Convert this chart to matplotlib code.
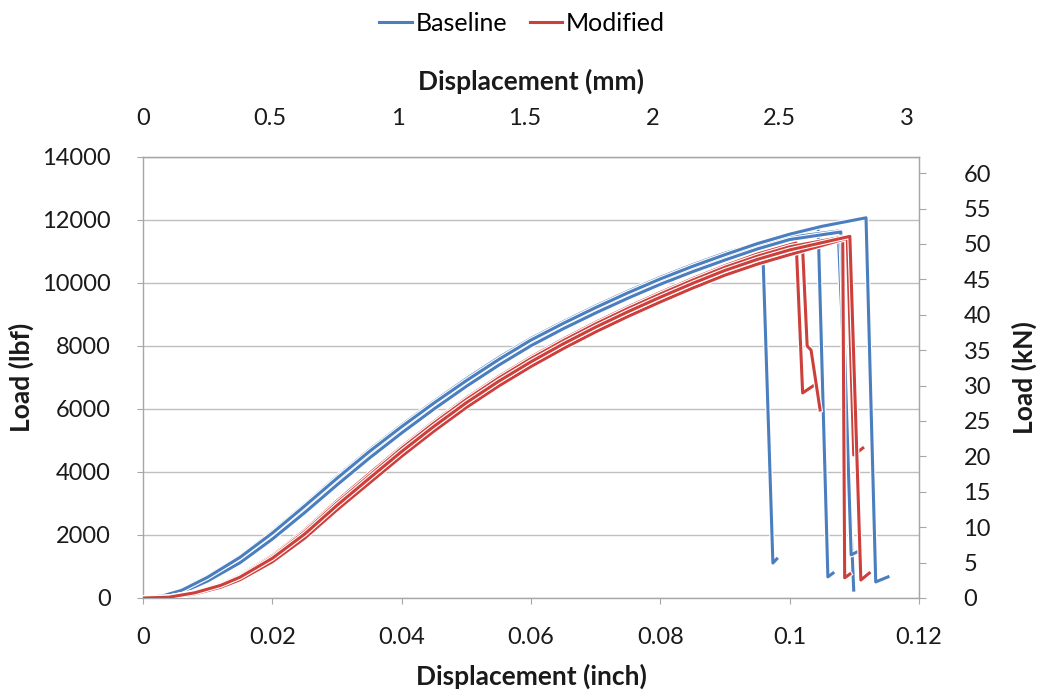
import matplotlib
matplotlib.use("Agg")
import matplotlib.pyplot as plt
import matplotlib.patheffects as pe

plt.rcParams['font.family'] = ['Lato', 'DejaVu Sans']

# ---------------- data (displacement in inch, load in lbf) ----------------
# common displacement samples of the rising part
blue_x = [0, 0.003, 0.006, 0.01, 0.015, 0.02, 0.025, 0.03, 0.035, 0.04, 0.045,
          0.05, 0.055, 0.06, 0.065, 0.07, 0.075, 0.08, 0.085, 0.09, 0.095, 0.1]
red_x = [0, 0.004, 0.008, 0.012, 0.015, 0.02, 0.025, 0.03, 0.035, 0.04, 0.045,
         0.05, 0.055, 0.06, 0.065, 0.07, 0.075, 0.08, 0.085, 0.09, 0.095, 0.1]

# Baseline specimens: rising part + peak / failure drop
b1_y = [0, 70, 260, 680, 1320, 2100, 2960, 3850, 4700, 5490, 6240, 6960, 7630, 8240, 8770, 9270, 9740, 10180, 10580, 10950]
b1_tail_x = [0.0958, 0.0974, 0.0980]
b1_tail_y = [11290, 1110, 1240]

b2_y = [0, 60, 230, 630, 1250, 2010, 2860, 3730, 4580, 5370, 6130, 6850, 7520, 8140, 8670, 9170, 9640, 10080, 10480, 10850, 11200, 11500]
b2_tail_x = [0.1044, 0.1059, 0.1067]
b2_tail_y = [11750, 670, 790]

b3_y = [0, 55, 210, 590, 1190, 1940, 2790, 3670, 4520, 5320, 6080, 6800, 7470, 8090, 8620, 9120, 9590, 10030, 10430, 10800, 11150, 11450]
b3_tail_x = [0.1075, 0.1099]
b3_tail_y = [11650, 250]

b4_y = [0, 45, 180, 540, 1120, 1870, 2710, 3590, 4440, 5240, 6000, 6720, 7390, 8010, 8550, 9050, 9520, 9960, 10360, 10730, 11080, 11380]
b4_tail_x = [0.1079, 0.1095, 0.1104]
b4_tail_y = [11620, 1370, 1460]

b5_y = [0, 65, 245, 660, 1290, 2060, 2920, 3800, 4650, 5440, 6190, 6900, 7570, 8190, 8720, 9220, 9690, 10130, 10530, 10900, 11250, 11550]
b5_tail_x = [0.105, 0.1118, 0.1133, 0.1152]
b5_tail_y = [11800, 12070, 510, 670]

# Modified specimens
r1_y = [0, 30, 190, 440, 720, 1350, 2150, 3080, 3950, 4800, 5600, 6350, 7030, 7650, 8220, 8750, 9240, 9700, 10140, 10550, 10920]
r1_tail_x = [0.101, 0.102, 0.1036]
r1_tail_y = [11270, 6510, 6730]

r2_y = [0, 20, 150, 370, 620, 1200, 1950, 2850, 3700, 4550, 5350, 6100, 6780, 7400, 7970, 8500, 8990, 9450, 9890, 10300, 10650, 10950]
r2_tail_x = [0.102, 0.1027, 0.1033, 0.1047]
r2_tail_y = [11080, 8000, 7870, 5970]

r3_y = [0, 28, 180, 420, 690, 1310, 2100, 3020, 3880, 4750, 5550, 6300, 6980, 7600, 8170, 8700, 9190, 9650, 10090, 10500, 10850, 11150]
r3_tail_x = [0.1082, 0.1085, 0.1093]
r3_tail_y = [11460, 640, 760]

r4_y = [0, 15, 130, 340, 580, 1150, 1900, 2800, 3650, 4500, 5300, 6050, 6730, 7350, 7920, 8450, 8940, 9400, 9840, 10250, 10600, 10900]
r4_tail_x = [0.1089, 0.1099, 0.1113]
r4_tail_y = [11420, 4540, 4760]

r5_y = [0, 25, 165, 400, 660, 1260, 2030, 2940, 3800, 4650, 5450, 6200, 6880, 7500, 8070, 8600, 9090, 9550, 9990, 10400, 10750, 11050]
r5_tail_x = [0.1093, 0.111, 0.1123]
r5_tail_y = [11480, 570, 790]

baseline = [(blue_x[:len(b1_y)] + b1_tail_x, b1_y + b1_tail_y),
            (blue_x[:len(b2_y)] + b2_tail_x, b2_y + b2_tail_y),
            (blue_x[:len(b3_y)] + b3_tail_x, b3_y + b3_tail_y),
            (blue_x[:len(b4_y)] + b4_tail_x, b4_y + b4_tail_y),
            (blue_x[:len(b5_y)] + b5_tail_x, b5_y + b5_tail_y)]
modified = [(red_x[:len(r1_y)] + r1_tail_x, r1_y + r1_tail_y),
            (red_x[:len(r2_y)] + r2_tail_x, r2_y + r2_tail_y),
            (red_x[:len(r3_y)] + r3_tail_x, r3_y + r3_tail_y),
            (red_x[:len(r4_y)] + r4_tail_x, r4_y + r4_tail_y),
            (red_x[:len(r5_y)] + r5_tail_x, r5_y + r5_tail_y)]

x_ticks_inch = [0, 0.02, 0.04, 0.06, 0.08, 0.1, 0.12]
x_ticklabels_inch = ['0', '0.02', '0.04', '0.06', '0.08', '0.1', '0.12']
x_ticks_mm = [0, 0.5, 1, 1.5, 2, 2.5, 3]
x_ticklabels_mm = ['0', '0.5', '1', '1.5', '2', '2.5', '3']
y_ticks_lbf = [0, 2000, 4000, 6000, 8000, 10000, 12000, 14000]
y_ticks_kn = [0, 5, 10, 15, 20, 25, 30, 35, 40, 45, 50, 55, 60]

LBF_PER_KN = 224.809
MM_PER_INCH = 25.4

# ---------------- styling ----------------
BLUE = '#4A7EBF'
RED = '#CC3F3B'
GRID = '#BFBFBF'
SPINE = '#A6A6A6'
TXT = '#1A1A1A'
FS = 17
FL = 19

fig = plt.figure(figsize=(10.4, 6.91), dpi=100)
ax = fig.add_axes([0.1375, 0.1346, 0.7462, 0.6382])

outline = [pe.Stroke(linewidth=3.8, foreground='white'), pe.Normal()]
for x, y in baseline:
    ax.plot(x, y, color=BLUE, lw=2.2, solid_joinstyle='round', path_effects=outline, zorder=3)
for x, y in modified:
    ax.plot(x, y, color=RED, lw=2.2, solid_joinstyle='round', path_effects=outline, zorder=3)

ax.set_xlim(0, 0.12)
ax.set_ylim(0, 14000)
ax.set_xticks(x_ticks_inch)
ax.set_xticklabels(x_ticklabels_inch)
ax.set_yticks(y_ticks_lbf)
ax.set_yticklabels([str(v) for v in y_ticks_lbf])
ax.grid(axis='y', color=GRID, lw=1.0)
ax.set_axisbelow(True)
for s in ax.spines.values():
    s.set_color(SPINE)
    s.set_linewidth(1.0)
ax.tick_params(axis='both', colors=SPINE, labelcolor=TXT, labelsize=FS, length=4)
ax.tick_params(axis='y', pad=19)
ax.tick_params(axis='x', pad=17)

ax.set_xlabel('Displacement (inch)', fontsize=FL, fontweight='bold', color=TXT, labelpad=11)
ax.set_ylabel('Load (lbf)', fontsize=FL, fontweight='bold', color=TXT, labelpad=6)

top = ax.secondary_xaxis('top', functions=(lambda v: v * MM_PER_INCH, lambda v: v / MM_PER_INCH))
top.set_xticks(x_ticks_mm)
top.set_xticklabels(x_ticklabels_mm)
top.tick_params(colors=SPINE, labelcolor=TXT, labelsize=FS, length=0, pad=20)
top.spines['top'].set_color(SPINE)
top.set_xlabel('Displacement (mm)', fontsize=FL, fontweight='bold', color=TXT, labelpad=13)

right = ax.secondary_yaxis('right', functions=(lambda v: v / LBF_PER_KN, lambda v: v * LBF_PER_KN))
right.set_yticks(y_ticks_kn)
right.set_yticklabels([str(v) for v in y_ticks_kn])
right.tick_params(colors=SPINE, labelcolor=TXT, labelsize=FS, length=5, pad=27)
right.spines['right'].set_color(SPINE)
right.set_ylabel('Load (kN)', fontsize=FL, fontweight='bold', color=TXT, labelpad=15)

h1, = ax.plot([], [], color=BLUE, lw=2.2)
h2, = ax.plot([], [], color=RED, lw=2.2)
fig.legend([h1, h2], ['Baseline', 'Modified'], loc='center', bbox_to_anchor=(0.502, 0.966),
           ncol=2, frameon=False, fontsize=18, handlelength=1.3, handletextpad=0.15,
           columnspacing=0.9)

fig.savefig('out.png', dpi=100, facecolor='white')
